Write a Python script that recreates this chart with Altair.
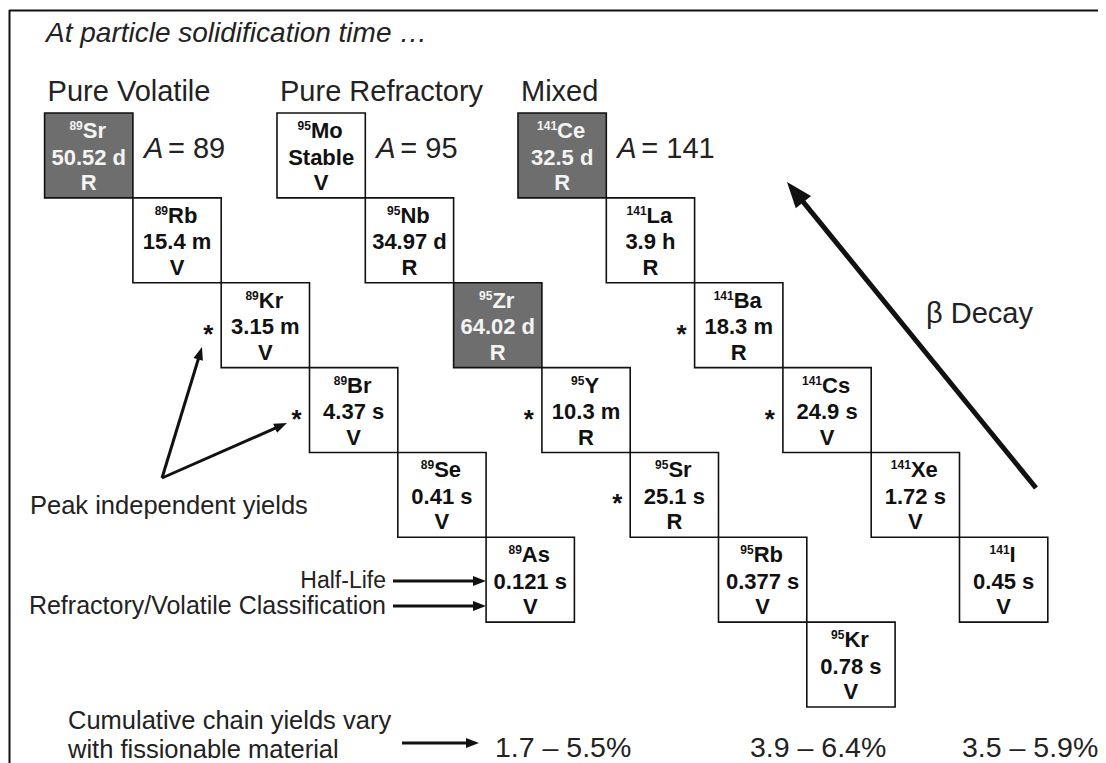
import math
import altair as alt
import pandas as pd

# ---------------- values ----------------
chain_mass = [89, 95, 141]
chain_title = ["Pure Volatile", "Pure Refractory", "Mixed"]
chain_yield = ["1.7 \u2013 5.5%", "3.9 \u2013 6.4%", "3.5 \u2013 5.9%"]

sym_89 = ["Sr", "Rb", "Kr", "Br", "Se", "As"]
half_89 = ["50.52 d", "15.4 m", "3.15 m", "4.37 s", "0.41 s", "0.121 s"]
cls_89 = ["R", "V", "V", "V", "V", "V"]

sym_95 = ["Mo", "Nb", "Zr", "Y", "Sr", "Rb", "Kr"]
half_95 = ["Stable", "34.97 d", "64.02 d", "10.3 m", "25.1 s", "0.377 s", "0.78 s"]
cls_95 = ["V", "R", "R", "R", "R", "V", "V"]

sym_141 = ["Ce", "La", "Ba", "Cs", "Xe", "I"]
half_141 = ["32.5 d", "3.9 h", "18.3 m", "24.9 s", "1.72 s", "0.45 s"]
cls_141 = ["R", "R", "R", "V", "V", "V"]

solid_at = ["Sr", "Zr", "Ce"]                       # shaded nuclide of each chain
peak_yield = [["Kr", "Br"], ["Y", "Sr"], ["Ba", "Cs"]]  # starred nuclides

title_text = "At particle solidification time \u2026"
decay_text = "\u03b2 Decay"
peak_text = "Peak independent yields"
legend_half = "Half-Life"
legend_cls = "Refractory/Volatile Classification"
cum_text = ["Cumulative chain yields vary", "with fissionable material"]

# ---------------- layout (pixels of the reference picture) ----------------
FONT = "Liberation Sans"
X0 = [44.6, 277.0, 518.0]
TOP = 113.0
BW, BH = 88.3, 84.86
FS, MS = 22, 12
BOLD_W = {'A': .722, 'B': .722, 'C': .722, 'I': .278, 'K': .722, 'L': .611, 'M': .833,
          'N': .722, 'R': .722, 'S': .667, 'X': .667, 'Y': .667, 'Z': .611,
          'a': .556, 'b': .611, 'e': .556, 'o': .611, 'r': .389, 's': .556}


def tw(s, size):
    return sum(BOLD_W.get(c, .6) for c in s) * size


chains = [(sym_89, half_89, cls_89), (sym_95, half_95, cls_95), (sym_141, half_141, cls_141)]
rows, stars = [], []
for ci, (syms, halves, clss) in enumerate(chains):
    for i, s in enumerate(syms):
        left = X0[ci] + i * BW
        top = TOP + i * BH
        shaded = (s == solid_at[ci])
        m = str(chain_mass[ci])
        wm = len(m) * 0.556 * MS
        ws = tw(s, FS)
        rows.append(dict(
            left=left, right=left + BW, top=top, bottom=top + BH,
            cx=left + BW / 2, anchor=left + BW / 2 + (wm - ws) / 2 - 1,
            y_mass=top + 13, y_sym=top + 18, y_half=top + 44.5, y_cls=top + 70,
            mass=m, sym=s, half=halves[i], cls=clss[i],
            fill="#6e6e6e" if shaded else "#ffffff",
            tcolor="#f4f4f4" if shaded else "#111111",
        ))
        if s in peak_yield[ci]:
            stars.append(dict(x=left - 13, y=top + 45 + 7, t="*"))

boxes_df = pd.DataFrame(rows)
stars_df = pd.DataFrame(stars)

xs = alt.Scale(domain=[8, 1098], nice=False, zero=False)
ys = alt.Scale(domain=[8, 763], reverse=True, nice=False, zero=False)


def X(f):
    return alt.X(f, scale=xs, axis=None)


def Y(f):
    return alt.Y(f, scale=ys, axis=None)


boxes = alt.Chart(boxes_df).mark_rect(stroke="#111111", strokeWidth=1.6).encode(
    x=X("left:Q"), x2="right:Q", y=Y("top:Q"), y2="bottom:Q",
    fill=alt.Fill("fill:N", scale=None))

mass_t = alt.Chart(boxes_df).mark_text(align="right", baseline="middle", fontSize=MS,
                                       fontWeight="bold", font=FONT).encode(
    x=X("anchor:Q"), y=Y("y_mass:Q"), text="mass:N", color=alt.Color("tcolor:N", scale=None))
sym_t = alt.Chart(boxes_df).mark_text(align="left", baseline="middle", fontSize=FS,
                                      fontWeight="bold", font=FONT).encode(
    x=X("anchor:Q"), y=Y("y_sym:Q"), text="sym:N", color=alt.Color("tcolor:N", scale=None))
half_t = alt.Chart(boxes_df).mark_text(align="center", baseline="middle", fontSize=FS,
                                       fontWeight="bold", font=FONT).encode(
    x=X("cx:Q"), y=Y("y_half:Q"), text="half:N", color=alt.Color("tcolor:N", scale=None))
cls_t = alt.Chart(boxes_df).mark_text(align="center", baseline="middle", fontSize=FS,
                                      fontWeight="bold", font=FONT).encode(
    x=X("cx:Q"), y=Y("y_cls:Q"), text="cls:N", color=alt.Color("tcolor:N", scale=None))
star_t = alt.Chart(stars_df).mark_text(align="center", baseline="middle", fontSize=26,
                                       fontWeight="bold", font=FONT, color="#111111").encode(
    x=X("x:Q"), y=Y("y:Q"), text="t:N")

# ---------------- annotation text ----------------
italic_rows = [dict(x=46, y=34, t=title_text, s=28)]
left_rows = []
right_rows = []
for ci in range(3):
    box_right = X0[ci] + BW
    italic_rows.append(dict(x=box_right + 11, y=149, t="A", s=29))
    left_rows.append(dict(x=box_right + 35, y=149, t="= " + str(chain_mass[ci]), s=29))
    left_rows.append(dict(x=X0[ci] + 3, y=92, t=chain_title[ci], s=29))
left_rows.append(dict(x=495, y=748, t=chain_yield[0], s=28.5))
left_rows.append(dict(x=750, y=748, t=chain_yield[1], s=28.5))
left_rows.append(dict(x=962, y=748, t=chain_yield[2], s=28.5))
left_rows.append(dict(x=926, y=314, t=decay_text, s=29))
left_rows.append(dict(x=30, y=506, t=peak_text, s=25.5))
left_rows.append(dict(x=68, y=721, t=cum_text[0], s=25.5))
left_rows.append(dict(x=68, y=750, t=cum_text[1], s=25.5))
right_rows.append(dict(x=386, y=581, t=legend_half, s=23))
right_rows.append(dict(x=386, y=606, t=legend_cls, s=25))


def text_layer(rows_, align, style="normal"):
    return alt.Chart(pd.DataFrame(rows_)).mark_text(
        align=align, baseline="middle", font=FONT, fontStyle=style, color="#222222").encode(
        x=X("x:Q"), y=Y("y:Q"), text="t:N", size=alt.Size("s:Q", scale=None))


ital_t = text_layer(italic_rows, "left", "italic")
left_t = text_layer(left_rows, "left")
right_t = text_layer(right_rows, "right")

# ---------------- arrows ----------------
arrows = [
    dict(x0=1036, y0=488, x1=787, y1=182, w=5, hl=26),
    dict(x0=162, y0=478, x1=202, y1=347, w=3, hl=13),
    dict(x0=162, y0=478, x1=287, y1=423, w=3, hl=13),
    dict(x0=393, y0=581, x1=486, y1=581, w=3, hl=13),
    dict(x0=393, y0=606, x1=486, y1=606, w=3, hl=13),
    dict(x0=402, y0=743, x1=479, y1=743, w=3, hl=13),
]
seg, heads = [], []
for a in arrows:
    dx, dy = a["x1"] - a["x0"], a["y1"] - a["y0"]
    L = math.hypot(dx, dy)
    ux, uy = dx / L, dy / L
    seg.append(dict(x=a["x0"], y=a["y0"], x2=a["x1"] - ux * a["hl"] * 0.7,
                    y2=a["y1"] - uy * a["hl"] * 0.7, w=a["w"]))
    s = a["hl"] / 1.8
    ang = math.degrees(math.atan2(dx, -dy)) % 360
    heads.append(dict(x=a["x1"], y=a["y1"], size=(2 * s) ** 2, angle=ang))

seg_df = pd.DataFrame(seg)
heads_df = pd.DataFrame(heads)
arrow_lines = alt.Chart(seg_df).mark_rule(color="#111111").encode(
    x=X("x:Q"), y=Y("y:Q"), x2="x2:Q", y2="y2:Q",
    strokeWidth=alt.StrokeWidth("w:Q", scale=None))
arrow_heads = alt.Chart(heads_df).mark_point(
    shape="M0,0L-0.68,1.8L0.68,1.8Z", filled=True, opacity=1, color="#111111",
    strokeWidth=0).encode(
    x=X("x:Q"), y=Y("y:Q"), size=alt.Size("size:Q", scale=None),
    angle=alt.Angle("angle:Q", scale=None))

# ---------------- frame ----------------
frame_df = pd.DataFrame([
    dict(x=9, y=10.5, x2=1106, y2=10.5, w=2, c="#111111"),
    dict(x=9.5, y=10, x2=9.5, y2=763, w=2, c="#111111"),
    dict(x=1103, y=14, x2=1103, y2=763, w=1.5, c="#e6e6e6"),
])
frame = alt.Chart(frame_df).mark_rule().encode(
    x=X("x:Q"), y=Y("y:Q"), x2="x2:Q", y2="y2:Q",
    strokeWidth=alt.StrokeWidth("w:Q", scale=None), color=alt.Color("c:N", scale=None))

chart = alt.layer(
    frame, boxes, mass_t, sym_t, half_t, cls_t, star_t,
    ital_t, left_t, right_t, arrow_lines, arrow_heads
).properties(
    width=1090, height=755, padding=0,
    autosize=alt.AutoSizeParams(type="none"),
    background="white",
).configure_view(stroke=None)

chart.save("out.html", embed_options={"renderer": "svg", "actions": False})
